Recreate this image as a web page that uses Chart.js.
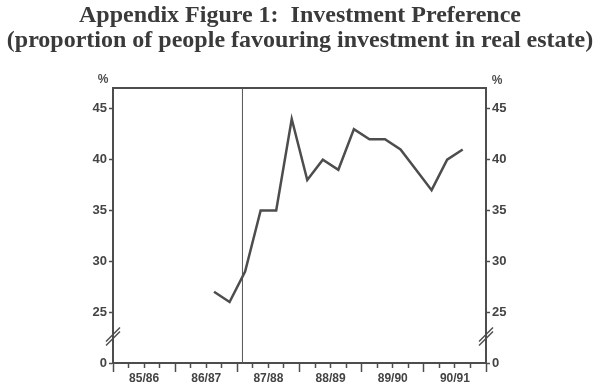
<!DOCTYPE html>
<html>
<head>
<meta charset="utf-8">
<script src="https://cdn.jsdelivr.net/npm/chart.js@4"></script>
<style>
  html, body { margin: 0; padding: 0; background: #fff; }
  #wrap { width: 600px; height: 385px; }
</style>
</head>
<body>
<div id="wrap"><canvas id="chart"></canvas></div>
<script>
// financial years, each split in 4 quarters
const years = ['85/86', '86/87', '87/88', '88/89', '89/90', '90/91'];
// % favouring real estate, one value per quarter (null = no survey)
const preference = [
  null, null, null, null,
  null, null, 27, 26,
  29, 35, 35, 44,
  38, 40, 39, 43,
  42, 42, 41, 39,
  37, 40, 41, null
];
const yTicks = [20, 25, 30, 35, 40, 45]; // 20 is drawn as the broken "0"
const yMin = 20;
const yMax = 47.05;
const markerQuarter = 8.33; // vertical marker line

const ink = '#4d4d4d';
const tickFont = { family: 'Liberation Sans', size: 12, weight: 'bold' };
const yTickFont = { family: 'Liberation Sans', size: 13, weight: 'bold' };

const points = preference.map((v, i) => ({ x: i + 0.5, y: v }));

function yLabel(v) {
  return v === yMin ? '0' : String(v);
}

// axis break marks and the "%" unit labels
const extras = {
  id: 'extras',
  afterDraw(chart) {
    const ctx = chart.ctx;
    const area = chart.chartArea;
    const yb = chart.scales.y.getPixelForValue(22.6);
    ctx.save();
    ctx.strokeStyle = ink;
    ctx.lineWidth = 1.5;
    [area.left, area.right].forEach(function (ax) {
      [-2, 2].forEach(function (d) {
        ctx.beginPath();
        ctx.moveTo(ax - 7, yb + 7 + d);
        ctx.lineTo(ax + 7, yb - 7 + d);
        ctx.stroke();
      });
    });
    ctx.fillStyle = ink;
    ctx.font = 'bold 12px "Liberation Sans"';
    ctx.textAlign = 'center';
    ctx.textBaseline = 'middle';
    ctx.fillText('%', area.left - 10, area.top - 8);
    ctx.fillText('%', area.right + 11, area.top - 7);
    ctx.restore();
  }
};

new Chart(document.getElementById('chart'), {
  type: 'line',
  data: {
    datasets: [{
      data: points,
      borderColor: ink,
      borderWidth: 2.5,
      pointRadius: 0,
      tension: 0,
      spanGaps: false
    }, {
      data: [{ x: markerQuarter, y: yMin }, { x: markerQuarter, y: yMax }],
      borderColor: '#555',
      borderWidth: 1,
      pointRadius: 0
    }]
  },
  options: {
    responsive: true,
    maintainAspectRatio: false,
    animation: false,
    layout: { padding: 0 },
    plugins: {
      legend: { display: false },
      tooltip: { enabled: false },
      title: {
        display: true,
        text: ['Appendix Figure 1:  Investment Preference',
               '(proportion of people favouring investment in real estate)'],
        font: { family: 'Liberation Serif', size: 24, weight: 'bold', lineHeight: 1.02 },
        color: '#3a3a3a',
        padding: { top: 4, bottom: 35 }
      }
    },
    scales: {
      x: {
        type: 'linear',
        position: 'bottom',
        min: 0,
        max: 24,
        afterBuildTicks: function (s) {
          s.ticks = preference.concat([null]).map((_, i) => ({ value: i }));
        },
        afterFit: function (s) { s.height = 22; },
        ticks: {
          autoSkip: false,
          maxRotation: 0,
          padding: -1,
          color: '#444',
          font: tickFont,
          callback: function (v) {
            return v % 4 === 2 ? years[(v - 2) / 4] : '';
          }
        },
        grid: {
          drawOnChartArea: false,
          tickLength: 9,
          tickWidth: 1.5,
          tickColor: ink,
          tickBorderDash: function (c) {
            return c.tick && c.tick.value % 4 === 0 ? [] : [4, 40];
          }
        },
        border: { color: ink, width: 2 }
      },
      xTop: {
        type: 'linear',
        position: 'top',
        min: 0,
        max: 24,
        afterFit: function (s) { s.height = 0; },
        ticks: { display: false },
        grid: { drawOnChartArea: false, drawTicks: false },
        border: { color: ink, width: 2 }
      },
      y: {
        position: 'left',
        min: yMin,
        max: yMax,
        afterBuildTicks: function (s) { s.ticks = yTicks.map(v => ({ value: v })); },
        afterFit: function (s) { s.width = 113; },
        ticks: { color: '#444', font: yTickFont, padding: 2, callback: yLabel },
        grid: { drawOnChartArea: false, tickLength: 4, tickWidth: 1.5, tickColor: ink },
        border: { color: ink, width: 2 }
      },
      y2: {
        position: 'right',
        min: yMin,
        max: yMax,
        afterBuildTicks: function (s) { s.ticks = yTicks.map(v => ({ value: v })); },
        afterFit: function (s) { s.width = 114; },
        ticks: { color: '#444', font: yTickFont, padding: 2, callback: yLabel },
        grid: { drawOnChartArea: false, tickLength: 4, tickWidth: 1.5, tickColor: ink },
        border: { color: ink, width: 2 }
      }
    }
  },
  plugins: [extras]
});
</script>
</body>
</html>
